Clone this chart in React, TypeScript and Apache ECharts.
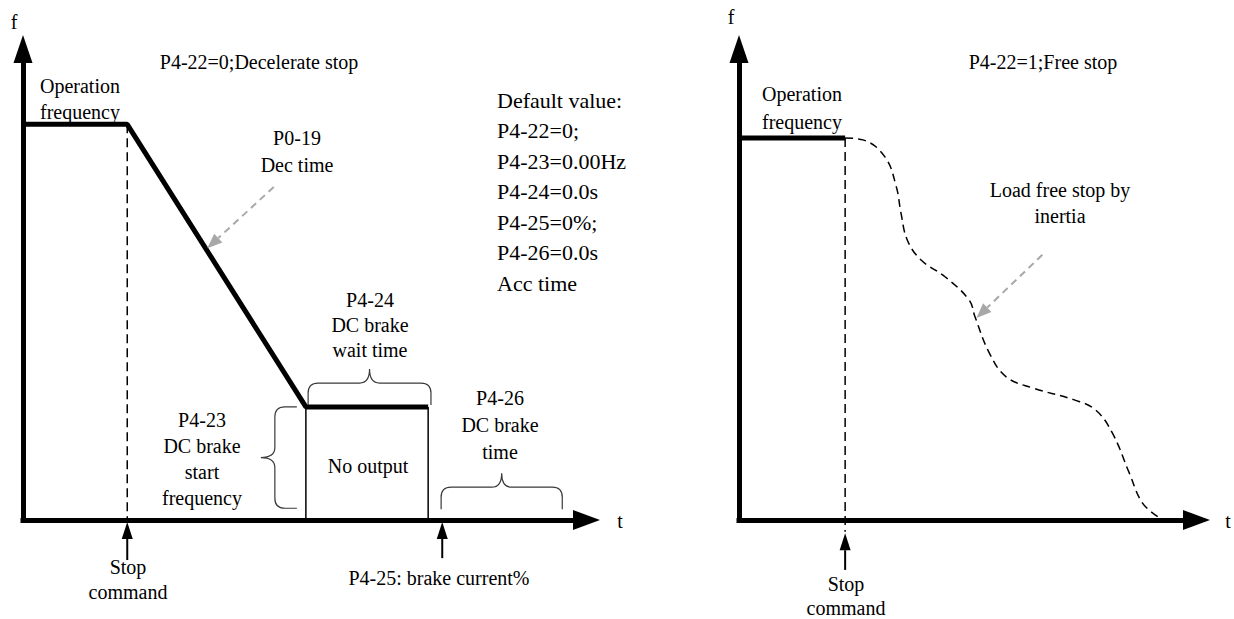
import React, { useEffect, useRef } from 'react';
import * as echarts from 'echarts';

const FONT = 'Liberation Serif';

// Both panels use schematic units: time t 0–100, frequency f 0–100
// ---- Left panel: P4-22=0, decelerate stop ----
const decelProfile = [[0, 84], [18.5, 84], [50.2, 24], [71.9, 24]];
const stopLineLeft = [[18.5, 84], [18.5, 0]];
const noOutputLeftEdge = [[50.2, 24], [50.2, 0]];
const noOutputRightEdge = [[71.9, 24], [71.9, 0]];
// braces: [t1, f1, t2, f2] (tip on the left of the travel direction)
const leftBraces = [
  [50.6, 24.4, 72.4, 24.4], // P4-24 wait time
  [48.6, 2.5, 48.6, 24],    // P4-23 start frequency
  [74.2, 2.3, 95.7, 2.3],   // P4-26 brake time
];
// arrows: [tailT, tailF, tipT, tipF]
const leftBlackArrows = [
  [18.5, -8.5, 18.5, -0.4], // stop command
  [74.4, -8.1, 74.4, -0.4], // P4-25
];
const leftGreyArrows = [[44.5, 70.7, 32.7, 57.7]];

// ---- Right panel: P4-22=1, free stop ----
const freeRun = [[0, 81.1], [23.2, 81.1]];
const stopLineRight = [[23.2, 81.1], [23.2, -2.5]];
const coastCurve = [
  [23.2, 81.1], [27.1, 80.7], [31.9, 77.1], [34.4, 70.7], [35.4, 65.2], [36.8, 59.4],
  [39.8, 55.2], [45.1, 51.6], [50.3, 46.7], [51.6, 43.1], [54.7, 35.5], [58.4, 30.4],
  [64.3, 28.0], [73.3, 25.5], [77.9, 23.4], [81.6, 18.5], [85.3, 10.0], [88.2, 3.6], [91.7, 0.6],
];
const rightBlackArrows = [[23.2, -10.6, 23.2, -2.8]];
const rightGreyArrows = [[66.3, 56.3, 51.9, 42.9]];

const defaultValues = ['Default value:', 'P4-22=0;', 'P4-23=0.00Hz', 'P4-24=0.0s', 'P4-25=0%;', 'P4-26=0.0s', 'Acc time'];

function arrowSeries(data: number[][], idx: number, color: string, dash: number[] | null, width: number, headLen: number, headW: number) {
  return {
    type: 'custom', xAxisIndex: idx, yAxisIndex: idx, data, clip: false, silent: true, z: 6,
    renderItem: (_p: any, api: any) => {
      const a = api.coord([api.value(0), api.value(1)]);
      const b = api.coord([api.value(2), api.value(3)]);
      const dx = b[0] - a[0], dy = b[1] - a[1];
      const L = Math.hypot(dx, dy) || 1;
      const ux = dx / L, uy = dy / L;
      const bx = b[0] - ux * headLen, by = b[1] - uy * headLen;
      const nx = -uy, ny = ux;
      return {
        type: 'group',
        children: [
          { type: 'line', shape: { x1: a[0], y1: a[1], x2: bx, y2: by }, style: { stroke: color, lineWidth: width, lineDash: dash || undefined } },
          { type: 'polygon', shape: { points: [[b[0], b[1]], [bx + nx * headW / 2, by + ny * headW / 2], [bx - nx * headW / 2, by - ny * headW / 2]] }, style: { fill: color } },
        ],
      };
    },
  };
}

function braceSeries(data: number[][], idx: number) {
  const h = 22, d = 36, r = 10;
  return {
    type: 'custom', xAxisIndex: idx, yAxisIndex: idx, data, clip: false, silent: true, z: 4,
    renderItem: (_p: any, api: any) => {
      const a = api.coord([api.value(0), api.value(1)]);
      const b = api.coord([api.value(2), api.value(3)]);
      const dx = b[0] - a[0], dy = b[1] - a[1];
      const L = Math.hypot(dx, dy) || 1;
      const ux = dx / L, uy = dy / L;
      const nx = uy, ny = -ux;
      const P = (s: number, t: number) => `${(a[0] + ux * s + nx * t).toFixed(2)},${(a[1] + uy * s + ny * t).toFixed(2)}`;
      const m = L / 2;
      const path = `M${P(0, 0)} L${P(0, h - r)} Q${P(0, h)} ${P(r, h)} L${P(m - r, h)} Q${P(m, h)} ${P(m, d)} Q${P(m, h)} ${P(m + r, h)} L${P(L - r, h)} Q${P(L, h)} ${P(L, h - r)} L${P(L, 0)}`;
      return { type: 'path', shape: { pathData: path }, style: { fill: 'none', stroke: '#3a3a3a', lineWidth: 1.2 } };
    },
  };
}

function lineSeries(data: number[][], idx: number, width: number, dash: any, extra: any = {}) {
  return {
    type: 'line', xAxisIndex: idx, yAxisIndex: idx, data, symbol: 'none', silent: true, clip: false,
    lineStyle: { color: '#000', width, type: dash || 'solid' }, z: 3, ...extra,
  };
}

function axisPair(idx: number) {
  const common = {
    type: 'value', min: 0, max: 100, gridIndex: idx,
    axisTick: { show: false }, axisLabel: { show: false }, splitLine: { show: false },
  };
  return {
    x: { ...common, axisLine: { show: true, symbol: ['none', 'triangle'], symbolSize: [20, 27], lineStyle: { color: '#000', width: 5, cap: 'square' } } },
    y: { ...common, axisLine: { show: true, symbol: ['none', 'triangle'], symbolSize: [19, 28], lineStyle: { color: '#000', width: 5, cap: 'square' } } },
  };
}

function txt(text: string, x: number, y: number, size = 20, align = 'center') {
  return {
    type: 'text', x, y, silent: true, z: 10,
    style: { text, fontSize: size, fontFamily: FONT, fill: '#000', textAlign: align, textVerticalAlign: 'middle', align, verticalAlign: 'middle' },
  };
}

function lines(arr: string[], x: number, y0: number, step: number, size = 20, align = 'center') {
  return arr.map((s, i) => txt(s, x, y0 + i * step, size, align));
}

export default function App() {
  const ref = useRef<HTMLDivElement>(null);
  useEffect(() => {
    if (!ref.current) return;
    const chart = echarts.init(ref.current, undefined, { renderer: 'svg' });
    const a0 = axisPair(0), a1 = axisPair(1);
    chart.setOption({
      animation: false,
      backgroundColor: '#fff',
      textStyle: { fontFamily: FONT },
      grid: [
        { left: 23, top: 49, right: 1234 - 586.5, bottom: 99, outerBoundsMode: 'none', containLabel: false },
        { left: 739, top: 49, right: 1234 - 1196.5, bottom: 99, outerBoundsMode: 'none', containLabel: false },
      ],
      xAxis: [a0.x, a1.x],
      yAxis: [a0.y, a1.y],
      series: [
        lineSeries(decelProfile, 0, 5, null),
        lineSeries(stopLineLeft, 0, 1.5, [9, 5]),
        lineSeries(noOutputLeftEdge, 0, 1.5, null),
        lineSeries(noOutputRightEdge, 0, 1.5, null),
        braceSeries(leftBraces, 0),
        arrowSeries(leftBlackArrows, 0, '#000', null, 2, 17, 11),
        arrowSeries(leftGreyArrows, 0, '#a8a8a8', [7, 5], 2, 15, 12),
        lineSeries(freeRun, 1, 5, null),
        lineSeries(stopLineRight, 1, 1.5, [9, 5]),
        lineSeries(coastCurve, 1, 1.5, [8, 5], { smooth: 0.4 }),
        arrowSeries(rightBlackArrows, 1, '#000', null, 2, 17, 11),
        arrowSeries(rightGreyArrows, 1, '#a8a8a8', [7, 5], 2, 15, 12),
      ],
      graphic: [
        txt('f', 14, 22),
        txt('t', 620, 521),
        txt('P4-22=0;Decelerate stop', 259, 62),
        ...lines(['Operation', 'frequency'], 80, 86, 26),
        ...lines(['P0-19', 'Dec time'], 297, 138, 27),
        ...lines(defaultValues, 497, 100, 30.5, 22, 'left'),
        ...lines(['P4-24', 'DC brake', 'wait time'], 370, 300, 25),
        ...lines(['P4-23', 'DC brake', 'start', 'frequency'], 202, 420, 26),
        txt('No output', 368, 466),
        ...lines(['P4-26', 'DC brake', 'time'], 500, 398, 27),
        ...lines(['Stop', 'command'], 128, 567, 25),
        txt('P4-25: brake current%', 439, 578),
        txt('f', 731, 17),
        txt('t', 1228, 521),
        txt('P4-22=1;Free stop', 1043, 62),
        ...lines(['Operation', 'frequency'], 802, 94, 28),
        ...lines(['Load free stop by', 'inertia'], 1060, 190, 26),
        ...lines(['Stop', 'command'], 846, 584, 24),
      ],
    });
    return () => chart.dispose();
  }, []);
  return <div ref={ref} style={{ position: 'fixed', left: 0, top: 0, width: 1234, height: 619, background: '#fff' }} />;
}
